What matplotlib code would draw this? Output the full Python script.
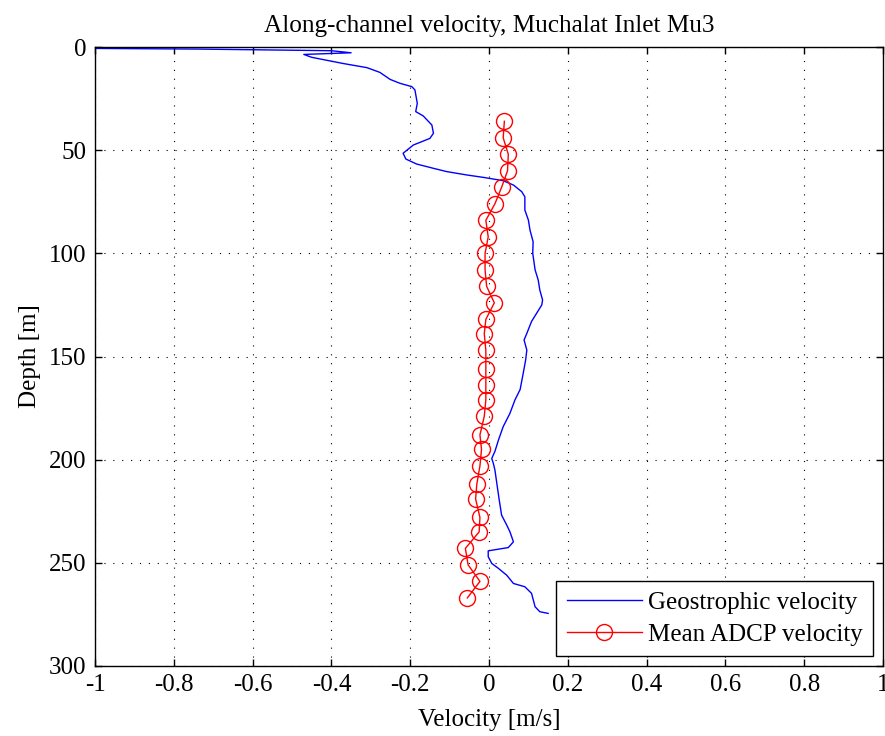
import matplotlib
matplotlib.use("Agg")
import matplotlib.pyplot as plt

# Geostrophic velocity profile (depth in m, velocity in m/s)
geo_depth = [0, 1.0, 1.8, 2.8, 3.6, 5.0, 6.5, 8, 10, 12.3, 15.7, 17.6, 19.2, 20.8, 27.3,
             31.3, 33.4, 37.8, 41.8, 44.3, 47.5, 51.5, 54.3, 56.7, 58.8, 60.4, 62,
             63.2, 64.8, 66.9, 70.1, 72.6, 79, 83.9, 88.7, 94.4, 100, 108, 113,
             117.8, 122.6, 125, 129, 133, 138.8, 142, 146.9, 151.7, 158, 166, 171,
             177.6, 184, 190.5, 196, 199.4, 201.8, 205, 213, 219.6, 226.9, 231.7,
             234.9, 239.8, 242.6, 243.5, 244.2, 247, 250.3, 252.7, 256, 260, 261.6,
             264.8, 271.3, 273.7, 274.5]
geo_vel = [-1.6, -0.74, -0.40, -0.35, -0.47, -0.45, -0.41, -0.37, -0.31, -0.277, -0.251,
           -0.226, -0.196, -0.188, -0.182, -0.186, -0.167, -0.145, -0.141, -0.150,
           -0.192, -0.218, -0.211, -0.184, -0.141, -0.107, -0.057, -0.014, 0.036,
           0.062, 0.083, 0.091, 0.091, 0.100, 0.104, 0.112, 0.111, 0.117, 0.125,
           0.129, 0.136, 0.134, 0.121, 0.108, 0.096, 0.089, 0.096, 0.093, 0.087,
           0.079, 0.066, 0.053, 0.036, 0.024, 0.015, 0.007, 0.011, 0.015, 0.021,
           0.026, 0.032, 0.045, 0.053, 0.062, 0.049, 0.020, -0.002, -0.002, 0.007,
           0.024, 0.045, 0.062, 0.091, 0.108, 0.117, 0.129, 0.150]

# Mean ADCP velocity per depth bin
adcp_depth = [36, 44, 52, 60, 68, 76, 84, 92, 100, 108, 116, 124, 132, 139, 147,
              156, 164, 171, 179, 188, 195, 203, 212, 219, 228, 235, 243, 251, 259, 267]
adcp_vel = [0.039, 0.036, 0.049, 0.047, 0.032, 0.015, -0.008, -0.002, -0.010, -0.010,
            -0.006, 0.0135, -0.008, -0.012, -0.008, -0.008, -0.008, -0.008, -0.012,
            -0.023, -0.019, -0.023, -0.031, -0.034, -0.023, -0.025, -0.060, -0.053,
            -0.023, -0.055]

x_ticks = [-1, -0.8, -0.6, -0.4, -0.2, 0, 0.2, 0.4, 0.6, 0.8, 1]
x_ticklabels = ["-1", "-0.8", "-0.6", "-0.4", "-0.2", "0", "0.2", "0.4", "0.6", "0.8", "1"]
y_ticks = [0, 50, 100, 150, 200, 250, 300]

plt.rcParams["font.family"] = ["Liberation Serif", "DejaVu Serif"]
plt.rcParams["font.size"] = 18

fig = plt.figure(figsize=(8.85, 7.36), dpi=100)
ax = fig.add_axes([95 / 885, 70 / 736, 788 / 885, 619 / 736])

ax.plot(geo_vel, geo_depth, color="#0000ff", lw=1.0, label="Geostrophic velocity")
ax.plot(adcp_vel, adcp_depth, color="#ff0000", lw=1.0, marker="o", markersize=11.5,
        markerfacecolor="none", markeredgecolor="#ff0000", markeredgewidth=1.0,
        label="Mean ADCP velocity")

ax.set_xlim(-1, 1)
ax.set_ylim(300, 0)
ax.set_xticks(x_ticks)
ax.set_xticklabels(x_ticklabels)
ax.set_yticks(y_ticks)

ax.grid(True, color="black", linestyle=(0, (1, 7)), linewidth=0.8)
ax.tick_params(direction="in", top=True, right=True, length=5, width=1, pad=6)
for s in ax.spines.values():
    s.set_linewidth(1.0)

ax.set_title("Along-channel velocity, Muchalat Inlet Mu3", fontsize=18.2, pad=11)
ax.set_xlabel("Velocity [m/s]", fontsize=18, labelpad=9)
ax.set_ylabel("Depth [m]", fontsize=18, labelpad=6)

leg = ax.legend(loc="lower right", fancybox=False, edgecolor="black", framealpha=1,
                fontsize=18, borderaxespad=0.4, handlelength=3.0, handletextpad=0.25,
                borderpad=0.42, labelspacing=0.36)
leg.get_frame().set_linewidth(1.0)

fig.savefig("out.png", dpi=100)
